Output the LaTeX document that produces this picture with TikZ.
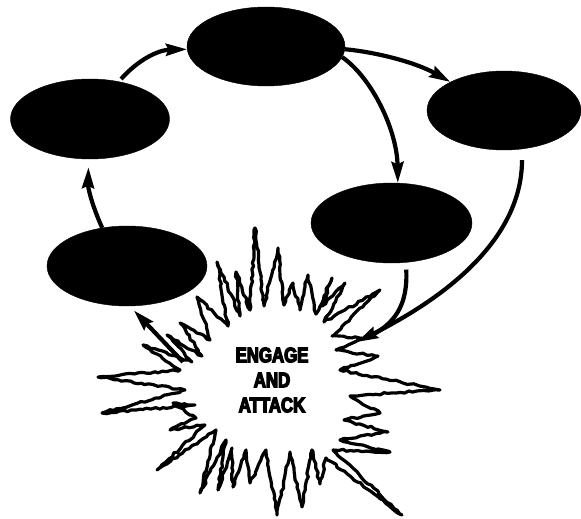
\documentclass[tikz,border=0pt]{standalone}
\usepackage{fontspec}
\newfontfamily\stampfont[FakeStretch=0.8,UprightFeatures={FakeBold=6},BoldFeatures={FakeBold=6}]{Liberation Sans}
\usetikzlibrary{shapes.geometric,arrows.meta,decorations.pathmorphing}
\begin{document}
\begin{tikzpicture}[x=1pt,y=-1pt,
  ell/.style={ellipse,fill=black,draw=black,inner sep=0pt},
  arr/.style={line width=4.2pt,-{Stealth[length=21pt,width=12pt,inset=2.5pt]}},
  link/.style={line width=4.2pt},
  burst/.style={line width=3.2pt,line join=round,
    decorate,decoration={random steps,segment length=4pt,amplitude=1.1pt}}]
\useasboundingbox (0,0) rectangle (581,519);
\pgfmathsetseed{11}
% ellipses
\node[ell,minimum width=158pt,minimum height=79pt] (T) at (266,46.5) {};
\node[ell,minimum width=159pt,minimum height=80pt] (L) at (90,119) {};
\node[ell,minimum width=154pt,minimum height=79pt] (R) at (504,110.5) {};
\node[ell,minimum width=161pt,minimum height=80pt] (M) at (391.5,223) {};
\node[ell,minimum width=160pt,minimum height=80pt] (B) at (127,266) {};
% starburst
\draw[burst] plot coordinates {
(98,377) (180,370) (143,345) (192,362) (167,335) (202,356) (180,323) (210,340)
(197,297) (228,326) (217,262) (240,316) (236,272) (250,310) (255,228) (264,306)
(278,248) (284,305) (293,283) (300,310) (308,275) (316,314) (332,278) (322,306)
(345,283) (324,322) (380,290) (332,336) (362,338) (336,350) (378,356) (340,370)
(440,390) (350,396) (380,413) (344,420) (388,432) (340,440) (390,452) (333,450)
(402,515) (326,458) (320,484) (312,450) (302,507) (290,452) (277,515) (266,450)
(250,483) (246,450) (233,487) (232,448) (218,490) (226,440) (200,493) (216,430)
(157,470) (205,425) (170,430) (196,418) (173,403) (195,405) (102,413) (185,390)
} -- cycle;
\node[align=center,inner sep=0pt,font=\stampfont\bfseries\fontsize{21}{25}\selectfont] (S) at (272,380) {ENGAGE\\AND\\ATTACK};
\coordinate (hit) at (357,342);
\coordinate (out) at (183,362);
% connectors
\draw[arr] ([shift={(0,-3)}]L.50) .. controls (138,60) and (158,50) .. (T.182);
\draw[arr] (T.-2) .. controls (375,52) and (415,62) .. (R.152);
\draw[arr] (T.-8) .. controls (372,78) and (397,130) .. (M.81);
\draw[arr,shorten <=11pt] (R.-65) .. controls (522,225) and (470,285) .. (hit);
\draw[link,shorten <=7pt,shorten >=10pt] (M.-70) .. controls (408,305) and (395,325) .. (hit);
\draw[arr,shorten >=6pt] (out) -- (B.-86);
\draw[arr,shorten >=8pt] (B.123) .. controls (94,210) and (88,190) .. (L.-92);
\end{tikzpicture}
\end{document}
